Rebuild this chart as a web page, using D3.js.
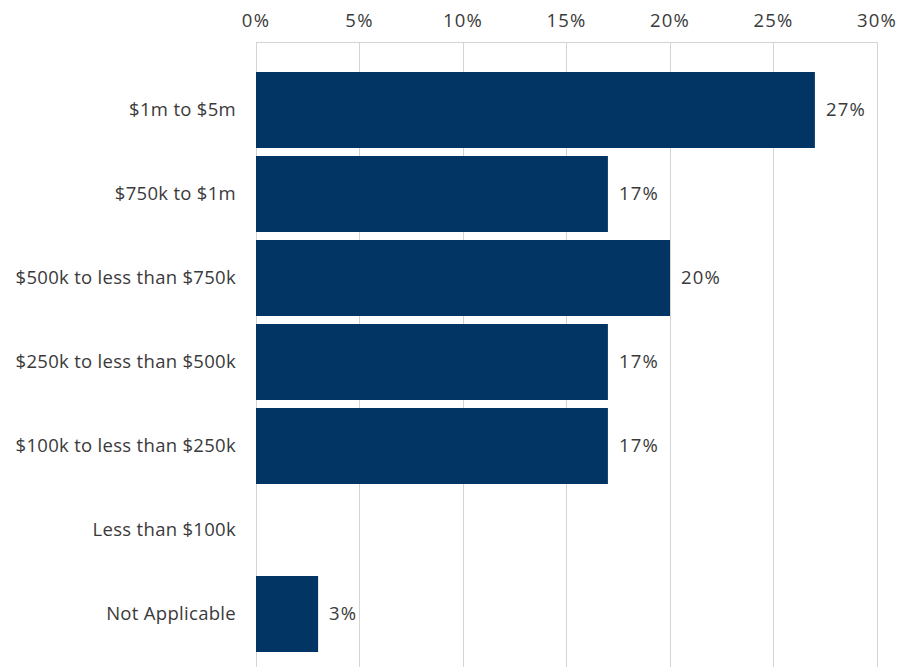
<!DOCTYPE html>
<html>
<head>
<meta charset="utf-8">
<script src="https://cdn.jsdelivr.net/npm/d3@7"></script>
<style>
  html, body { margin: 0; padding: 0; background: #fff; }
  svg text { font-family: "Open Sans", Lato, sans-serif; fill: #3a3a3a; }
</style>
</head>
<body>
<svg id="chart" width="899" height="667"></svg>
<script>
// Revenue bands and share of respondents (%)
const categories = [
  "$1m to $5m",
  "$750k to $1m",
  "$500k to less than $750k",
  "$250k to less than $500k",
  "$100k to less than $250k",
  "Less than $100k",
  "Not Applicable"
];
const values = [27, 17, 20, 17, 17, null, 3];
const tickValues = [0, 5, 10, 15, 20, 25, 30];

const svg = d3.select("#chart");
const left = 256, right = 877, gridTop = 42, gridBottom = 667;

const x = d3.scaleLinear().domain([0, 30]).range([left, right]);
const y = d3.scaleBand().domain(categories).range([68, 656]).paddingInner(8 / 84).paddingOuter(4 / 84);

// vertical gridlines
svg.append("g").selectAll("line").data(tickValues).join("line")
  .attr("x1", d => x(d)).attr("x2", d => x(d))
  .attr("y1", gridTop).attr("y2", gridBottom)
  .attr("stroke", "#d4d4d4").attr("stroke-width", 1)
  .attr("shape-rendering", "crispEdges");

// axis line along the top
svg.append("line")
  .attr("x1", left).attr("x2", right)
  .attr("y1", gridTop).attr("y2", gridTop)
  .attr("stroke", "#d4d4d4").attr("stroke-width", 1)
  .attr("shape-rendering", "crispEdges");

// top axis labels
svg.append("g").selectAll("text").data(tickValues).join("text")
  .attr("x", d => x(d)).attr("y", 27)
  .attr("text-anchor", "middle")
  .attr("font-size", 18.5)
  .attr("letter-spacing", 1.2)
  .text(d => d + "%");

// bars
const data = categories.map((c, i) => ({ c, v: values[i] }));
svg.append("g").selectAll("rect").data(data.filter(d => d.v != null)).join("rect")
  .attr("x", x(0)).attr("y", d => y(d.c))
  .attr("width", d => x(d.v) - x(0)).attr("height", y.bandwidth())
  .attr("fill", "#023563");

// category labels
svg.append("g").selectAll("text").data(categories).join("text")
  .attr("x", 236).attr("y", d => y(d) + y.bandwidth() / 2)
  .attr("dy", "0.35em").attr("text-anchor", "end")
  .attr("font-size", 18.5)
  .attr("letter-spacing", 0.3)
  .text(d => d);

// value labels
svg.append("g").selectAll("text").data(data.filter(d => d.v != null)).join("text")
  .attr("x", d => x(d.v) + 11).attr("y", d => y(d.c) + y.bandwidth() / 2)
  .attr("dy", "0.35em")
  .attr("font-size", 18.5)
  .attr("letter-spacing", 1.2)
  .text(d => d.v + "%");
</script>
</body>
</html>
